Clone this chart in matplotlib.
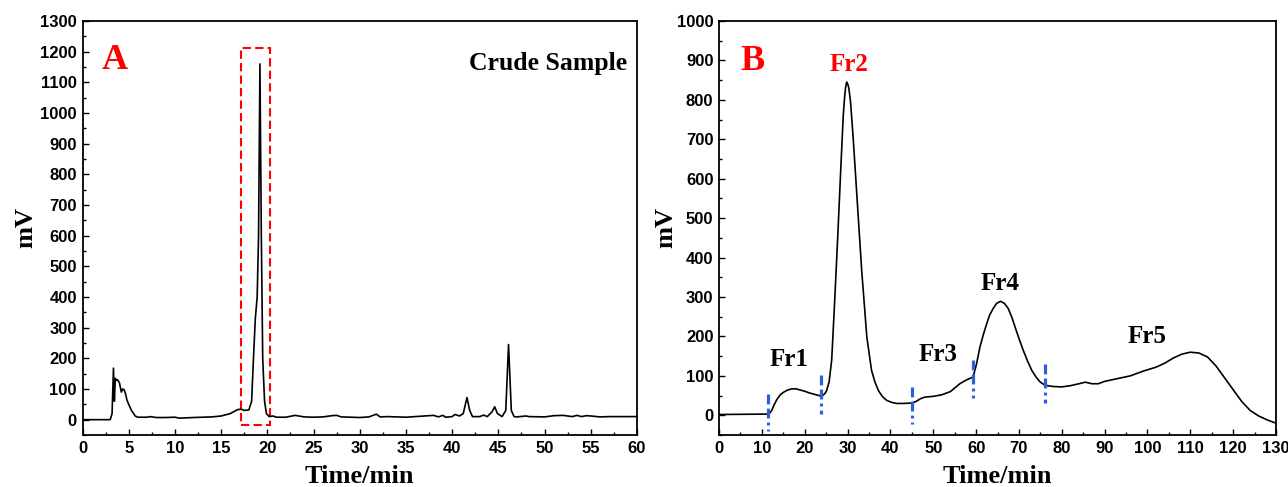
import matplotlib
matplotlib.use("Agg")
import matplotlib.pyplot as plt
from matplotlib.patches import Rectangle
from matplotlib.ticker import MultipleLocator

a_time = [0, 3.0, 3.2, 3.35, 3.45, 3.55, 3.65, 3.8, 4.0, 4.2, 4.35, 4.5, 4.65, 4.8, 5.0,
          5.3, 5.7, 6.0, 7.0, 7.3, 8.0, 9.0, 10.0, 10.5, 12.0, 14.0, 15.0, 16.0, 16.8,
          17.2, 17.5, 18.0, 18.3, 18.5, 18.7, 18.9, 19.05, 19.2, 19.35, 19.5, 19.7, 19.9,
          20.2, 20.6, 21.0, 22.0, 23.0, 24.0, 25.0, 26.0, 27.0, 27.5, 28.0, 29.0, 30.0,
          31.0, 31.8, 32.2, 33.0, 35.0, 37.0, 38.0, 38.5, 39.0, 39.3, 40.0, 40.3, 40.8,
          41.2, 41.6, 41.9, 42.2, 43.0, 43.4, 43.8, 44.3, 44.6, 44.9, 45.4, 45.8, 46.1,
          46.4, 46.7, 47.0, 48.0, 48.3, 50.0, 51.0, 52.0, 53.0, 53.5, 54.0, 54.5, 55.0,
          56.0, 57.0, 58.0, 60.0]
a_signal = [0, 0, 20, 168, 60, 135, 128, 130, 120, 90, 100, 98, 85, 65, 50,
            30, 12, 8, 8, 10, 7, 7, 8, 5, 7, 9, 12, 20, 33,
            34, 30, 32, 60, 200, 330, 400, 600, 1160, 600, 200, 60, 20,
            10, 12, 8, 8, 14, 9, 8, 9, 13, 14, 9, 8, 7,
            9, 18, 9, 10, 8, 12, 14, 9, 14, 8, 10, 17, 12,
            20, 72, 30, 10, 10, 15, 10, 25, 42, 20, 10, 30, 245,
            30, 10, 9, 12, 10, 9, 13, 14, 10, 14, 10, 13, 12,
            9, 10, 10, 10]
a_box = (17.2, -17, 20.3, 1212)  # x0, y0, x1, y1 of highlighted region

b_time = [0, 11, 11.8, 12.3, 12.8, 13.5, 14.3, 15, 16, 17, 18, 19, 20, 21, 22, 23, 23.7,
          24.2, 24.7, 25.1, 25.7, 26.3, 27.0, 27.7, 28.4, 29.0, 29.3, 29.55, 29.8, 30.05,
          30.3, 30.7, 31.3, 32.3, 33.3, 34.5, 35.6, 36.4, 37.2, 38.1, 39.1, 40.2, 41.5,
          43.0, 45.0, 46.0, 47.0, 48.0, 50.0, 52.0, 54.0, 56.2, 57.8, 59.3, 60.1, 60.9,
          61.7, 62.5, 63.2, 64.0, 64.8, 65.7, 66.6, 67.5, 68.3, 69.1, 70.0, 71.0, 72.0,
          73.0, 74.0, 74.9, 76.1, 78, 80, 82, 84, 85.5, 87, 88.5, 90, 93, 96, 99,
          102, 104, 106, 108, 110, 112, 114, 116, 118, 120, 122, 124, 126, 128, 130]
b_signal = [2, 3, 5, 12, 25, 40, 52, 58, 64, 67, 67, 64, 61, 57, 54, 51, 49,
            50, 55, 62, 85, 140, 290, 450, 620, 760, 805, 832, 845, 840,
            830, 795, 706, 537, 368, 199, 114, 84, 63, 48, 38, 33, 30,
            30, 31, 35, 42, 46, 48, 52, 60, 80, 90, 97, 130, 173,
            205, 233, 255, 271, 284, 289, 284, 271, 250, 224, 195, 165, 138,
            114, 97, 85, 76, 73, 72, 75, 80, 84, 80, 80, 86, 93, 100, 112,
            122, 132, 145, 155, 160, 158, 148, 125, 95, 65, 35, 12, -2, -12, -20]
cut_x = [11.4, 23.8, 45.0, 59.2, 76.0]
cut_lo = [-40, 4, -23, 45, 32]
cut_hi = [55, 101, 73, 140, 130]
frac_names = ["Fr1", "Fr2", "Fr3", "Fr4", "Fr5"]
frac_x = [16.4, 30.4, 51.0, 65.6, 99.8]
frac_y = [142, 890, 155, 334, 201]
frac_colors = ["black", "red", "black", "black", "black"]

serif = ["Liberation Serif", "DejaVu Serif"]
sans = ["Liberation Sans", "DejaVu Sans"]

fig = plt.figure(figsize=(12.88, 4.87), dpi=100)
ax1 = fig.add_axes([82.5 / 1288, 1 - 435 / 487, (637 - 82.5) / 1288, (435 - 21) / 487])
ax2 = fig.add_axes([719 / 1288, 1 - 435 / 487, (1276 - 719) / 1288, (435 - 21) / 487])


def style_axis(ax, xmaj, xmin, ymaj, ymin, ypad):
    ax.xaxis.set_major_locator(MultipleLocator(xmaj))
    ax.xaxis.set_minor_locator(MultipleLocator(xmin))
    ax.yaxis.set_major_locator(MultipleLocator(ymaj))
    ax.yaxis.set_minor_locator(MultipleLocator(ymin))
    ax.tick_params(which="both", direction="in", top=False, right=False, width=1.0)
    ax.tick_params(which="major", length=4, pad=4)
    ax.tick_params(which="minor", length=2.5)
    for s in ax.spines.values():
        s.set_linewidth(1.3)
    for lab in ax.get_xticklabels() + ax.get_yticklabels():
        lab.set_family(sans)
        lab.set_fontweight("bold")
        lab.set_fontsize(12)
    ax.set_xlabel("Time/min", family=serif, fontweight="bold", fontsize=19, labelpad=7)
    ax.set_ylabel("mV", family=serif, fontweight="bold", fontsize=19, labelpad=ypad)


# Panel A
ax1.plot(a_time, a_signal, color="black", lw=1.2)
ax1.add_patch(Rectangle((a_box[0], a_box[1]), a_box[2] - a_box[0], a_box[3] - a_box[1],
                        fill=False, edgecolor="red", lw=1.5, ls=(0, (4, 2))))
ax1.set_xlim(0, 60)
ax1.set_ylim(-50, 1300)
style_axis(ax1, 5, 2.5, 100, 50, 2)
ax1.text(3.5, 1170, "A", color="red", family=serif, fontweight="bold", fontsize=26,
         ha="center", va="center")
ax1.text(58.95, 1163, "Crude Sample", color="black", family=serif, fontweight="bold",
         fontsize=18.5, ha="right", va="center")

# Panel B
ax2.plot(b_time, b_signal, color="black", lw=1.2)
for x, lo, hi in zip(cut_x, cut_lo, cut_hi):
    ax2.plot([x, x], [hi, lo], color="#2b5fdc", lw=2.3, solid_capstyle="butt",
             dash_capstyle="butt", ls=(0, (3.1, 1.3, 3.1, 1.3, 0.9, 1.3)))
for name, x, y, c in zip(frac_names, frac_x, frac_y, frac_colors):
    ax2.text(x, y, name, color=c, family=serif, fontweight="bold", fontsize=18,
             ha="center", va="center")
ax2.set_xlim(0, 130)
ax2.set_ylim(-50, 1000)
style_axis(ax2, 10, 5, 100, 50, 0)
ax2.text(7.9, 897, "B", color="red", family=serif, fontweight="bold", fontsize=26,
         ha="center", va="center")

fig.savefig("out.png", dpi=100)
